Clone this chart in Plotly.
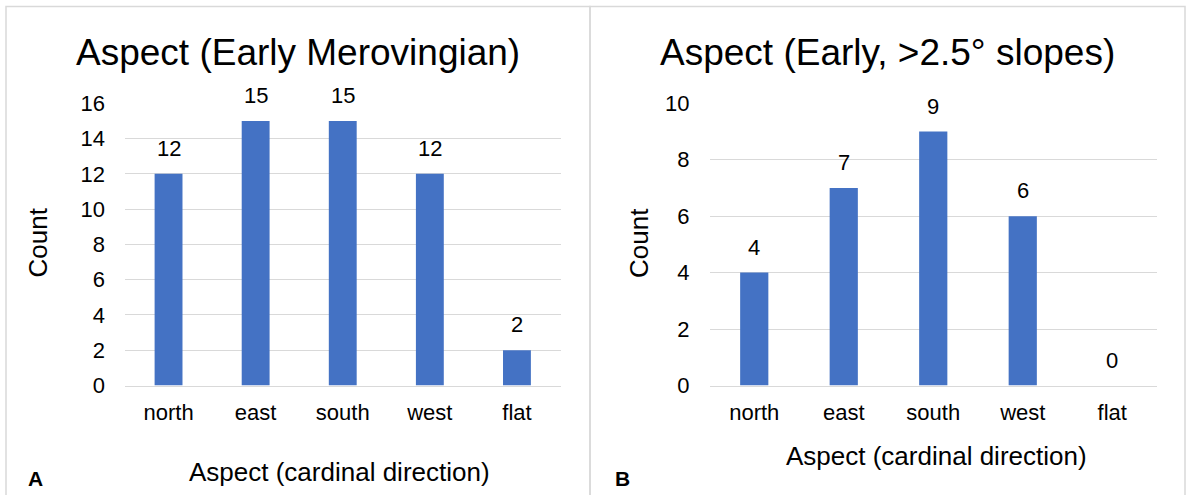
import plotly.graph_objects as go

# Counts of sites by slope aspect
categories = ["north", "east", "south", "west", "flat"]
counts_all = [12, 15, 15, 12, 2]
counts_steep = [4, 7, 9, 6, 0]

title_left = "Aspect (Early Merovingian)"
title_right = "Aspect (Early, >2.5° slopes)"
x_title = "Aspect (cardinal direction)"
y_title = "Count"
y_ticks_left = [0, 2, 4, 6, 8, 10, 12, 14, 16]
y_ticks_right = [0, 2, 4, 6, 8, 10]

W, H = 1188, 495
BAR = "#4472C4"
GRID = "#d9d9d9"
FONT = "Liberation Sans, Arial, sans-serif"


def px(x):
    return x / W


def py(y):
    return 1 - y / H


fig = go.Figure()
fig.add_trace(go.Bar(x=categories, y=counts_all, marker_color=BAR, width=0.32,
                     marker_line_width=0,
                     xaxis="x", yaxis="y", showlegend=False, hoverinfo="x+y"))
fig.add_trace(go.Bar(x=categories, y=counts_steep, marker_color=BAR, width=0.315,
                     marker_line_width=0,
                     xaxis="x2", yaxis="y2", showlegend=False, hoverinfo="x+y"))

tick_font = dict(size=22, color="black", family=FONT)

fig.update_layout(
    width=W, height=H,
    margin=dict(l=0, r=0, t=0, b=0, pad=0, autoexpand=False),
    showlegend=False,
    paper_bgcolor="white", plot_bgcolor="white",
    font=dict(family=FONT, color="black"),
    xaxis=dict(domain=[px(125), px(560.5)], anchor="y", showgrid=False,
               zeroline=False, ticks="", tickfont=tick_font, automargin=False,
               showline=True, linecolor=GRID, linewidth=1,
               ticklabelstandoff=7),
    yaxis=dict(domain=[py(385.5), py(103.3)], anchor="x", range=[0, 16],
               tickvals=y_ticks_left, showgrid=True, gridcolor=GRID, gridwidth=1,
               showline=False, zeroline=False, ticks="", tickfont=tick_font,
               automargin=False, ticklabelstandoff=19),
    xaxis2=dict(domain=[px(709.5), px(1157)], anchor="y2", showgrid=False,
                zeroline=False, ticks="", tickfont=tick_font, automargin=False,
                showline=True, linecolor=GRID, linewidth=1,
                ticklabelstandoff=7),
    yaxis2=dict(domain=[py(385.5), py(103.3)], anchor="x2", range=[0, 10],
                tickvals=y_ticks_right, showgrid=True, gridcolor=GRID, gridwidth=1,
                showline=False, zeroline=False, ticks="", tickfont=tick_font,
                automargin=False, ticklabelstandoff=19),
)

annotations = []

# value labels above the bars
for xa, ya, vals in (("x", "y", counts_all), ("x2", "y2", counts_steep)):
    for c, v in zip(categories, vals):
        annotations.append(dict(x=c, y=v, xref=xa, yref=ya, text=str(v),
                                showarrow=False, yanchor="bottom", yshift=11,
                                font=dict(size=22, color="black", family=FONT)))


def label(x, y, text, size, angle=0, bold=False):
    annotations.append(dict(x=px(x), y=py(y), xref="paper", yref="paper",
                            text=f"<b>{text}</b>" if bold else text,
                            showarrow=False, xanchor="center", yanchor="middle",
                            textangle=angle,
                            font=dict(size=size, color="black", family=FONT)))


label(297.5, 52, title_left, 37)
label(887, 52, title_right, 37)
label(340, 472, x_title, 26)
label(936, 456, x_title, 26)
label(37.5, 243, y_title, 26, angle=-90)
label(639, 243, y_title, 26, angle=-90)
label(35.5, 478, "A", 21, bold=True)
label(622.5, 478, "B", 21, bold=True)

fig.update_layout(annotations=annotations)

# panel frames
shapes = [
    dict(type="rect", xref="paper", yref="paper", x0=px(6), x1=px(590),
         y0=py(H + 20), y1=py(6.5), line=dict(color=GRID, width=1.5)),
    dict(type="rect", xref="paper", yref="paper", x0=px(590), x1=px(1185),
         y0=py(H + 20), y1=py(6.5), line=dict(color=GRID, width=1.5)),
]
fig.update_layout(shapes=shapes)

fig.write_html("out.html")
